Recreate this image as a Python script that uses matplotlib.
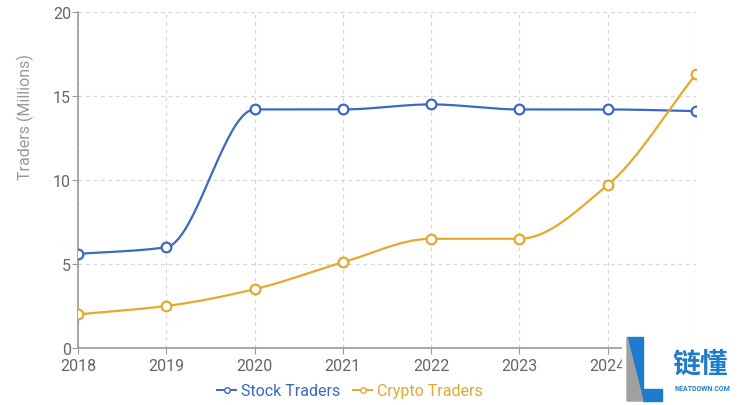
import numpy as np
import matplotlib
matplotlib.use("Agg")
import matplotlib.pyplot as plt
from matplotlib.lines import Line2D
from matplotlib.patches import Polygon, Rectangle

# data
years = [2018, 2019, 2020, 2021, 2022, 2023, 2024, 2025]
stockTraders = [5.6, 6.0, 14.2, 14.2, 14.5, 14.2, 14.2, 14.1]
cryptoTraders = [2.0, 2.5, 3.5, 5.1, 6.5, 6.5, 9.7, 16.3]

blue = "#3a68c4"
orange = "#e8a82c"

plt.rcParams['font.family'] = ['Roboto', 'Noto Sans CJK SC', 'DejaVu Sans']


#monotone cubic (like d3 monotoneX) so the line is drawn smooth
def monotoneCurve(x, y, steps=40):
    x = np.asarray(x, float)
    y = np.asarray(y, float)
    h = np.diff(x)
    d = np.diff(y) / h
    m = np.zeros(len(x))
    m[0] = d[0]
    m[-1] = d[-1]
    for i in range(1, len(x) - 1):
        if d[i - 1] * d[i] <= 0:
            m[i] = 0
        else:
            w1 = 2 * h[i] + h[i - 1]
            w2 = h[i] + 2 * h[i - 1]
            m[i] = (w1 + w2) / (w1 / d[i - 1] + w2 / d[i])
    xs, ys = [], []
    for i in range(len(x) - 1):
        t = np.linspace(0, 1, steps)
        h00 = 2 * t**3 - 3 * t**2 + 1
        h10 = t**3 - 2 * t**2 + t
        h01 = -2 * t**3 + 3 * t**2
        h11 = t**3 - t**2
        xs.extend(x[i] + t * h[i])
        ys.extend(h00 * y[i] + h10 * h[i] * m[i] + h01 * y[i + 1] + h11 * h[i] * m[i + 1])
    return np.array(xs), np.array(ys)


fig = plt.figure(figsize=(7.39, 4.06), dpi=100)
ax = fig.add_axes([78 / 739, 1 - 349 / 406, (696 - 78) / 739, (349 - 13) / 406])

for vals, col in [(stockTraders, blue), (cryptoTraders, orange)]:
    cx, cy = monotoneCurve(years, vals)
    ax.plot(cx, cy, color=col, lw=1.6, zorder=3)
    ax.plot(years, vals, 'o', ms=7, mfc='white', mec=col, mew=1.6, zorder=4)

ax.set_xlim(2018, 2025)
ax.set_ylim(0, 20)
ax.set_xticks(years)
ax.set_yticks([0, 5, 10, 15, 20])
ax.grid(True, color='#d6d6d6', ls=(0, (3, 3)), lw=0.9)
ax.set_axisbelow(True)
for s in ['top', 'right']:
    ax.spines[s].set_visible(False)
for s in ['left', 'bottom']:
    ax.spines[s].set_color('#999999')
    ax.spines[s].set_linewidth(1.2)
ax.tick_params(colors='#999999', labelcolor='#666666', labelsize=11.5, length=4)
ax.tick_params(axis='y', pad=1)
ax.tick_params(axis='x', pad=3)
ax.set_ylabel("Traders (Millions)", color='#999999', fontsize=11.5)
ax.yaxis.set_label_coords(-0.071, 0.69)

handles = [Line2D([], [], color=blue, marker='o', ms=4, mfc='white', mec=blue, lw=1.4),
           Line2D([], [], color=orange, marker='o', ms=4, mfc='white', mec=orange, lw=1.4)]
leg = fig.legend(handles, ["Stock Traders", "Crypto Traders"], loc='center',
                 bbox_to_anchor=(350 / 739, 1 - 392 / 406), ncol=2, frameon=False,
                 fontsize=11.5, handlelength=1.2, handletextpad=0.3, columnspacing=0.8)
for txt, col in zip(leg.get_texts(), [blue, orange]):
    txt.set_color(col)

#watermark in the bottom right corner
wm = fig.add_axes([0, 0, 1, 1], zorder=10)
wm.set_xlim(0, 739)
wm.set_ylim(406, 0)
wm.axis('off')
wm.add_patch(Rectangle((622, 333), 117, 73, color='white'))
wm.add_patch(Polygon([(627, 338), (643, 338), (643, 390), (662, 390), (662, 402), (643, 402)], color='#1f7ccd'))
wm.add_patch(Polygon([(627, 338), (643, 402), (627, 402)], color='#a0a0a0'))
wm.text(700, 365, "链懂", color='#1f7ccd', fontsize=20, fontweight='bold',
        ha='center', va='center', family=['Noto Sans CJK SC', 'DejaVu Sans'])
wm.text(702, 389, "NEATDOWN.COM", color='#1f7ccd', fontsize=5, fontweight='bold',
        ha='center', va='center')

plt.savefig("out.png", dpi=100)
